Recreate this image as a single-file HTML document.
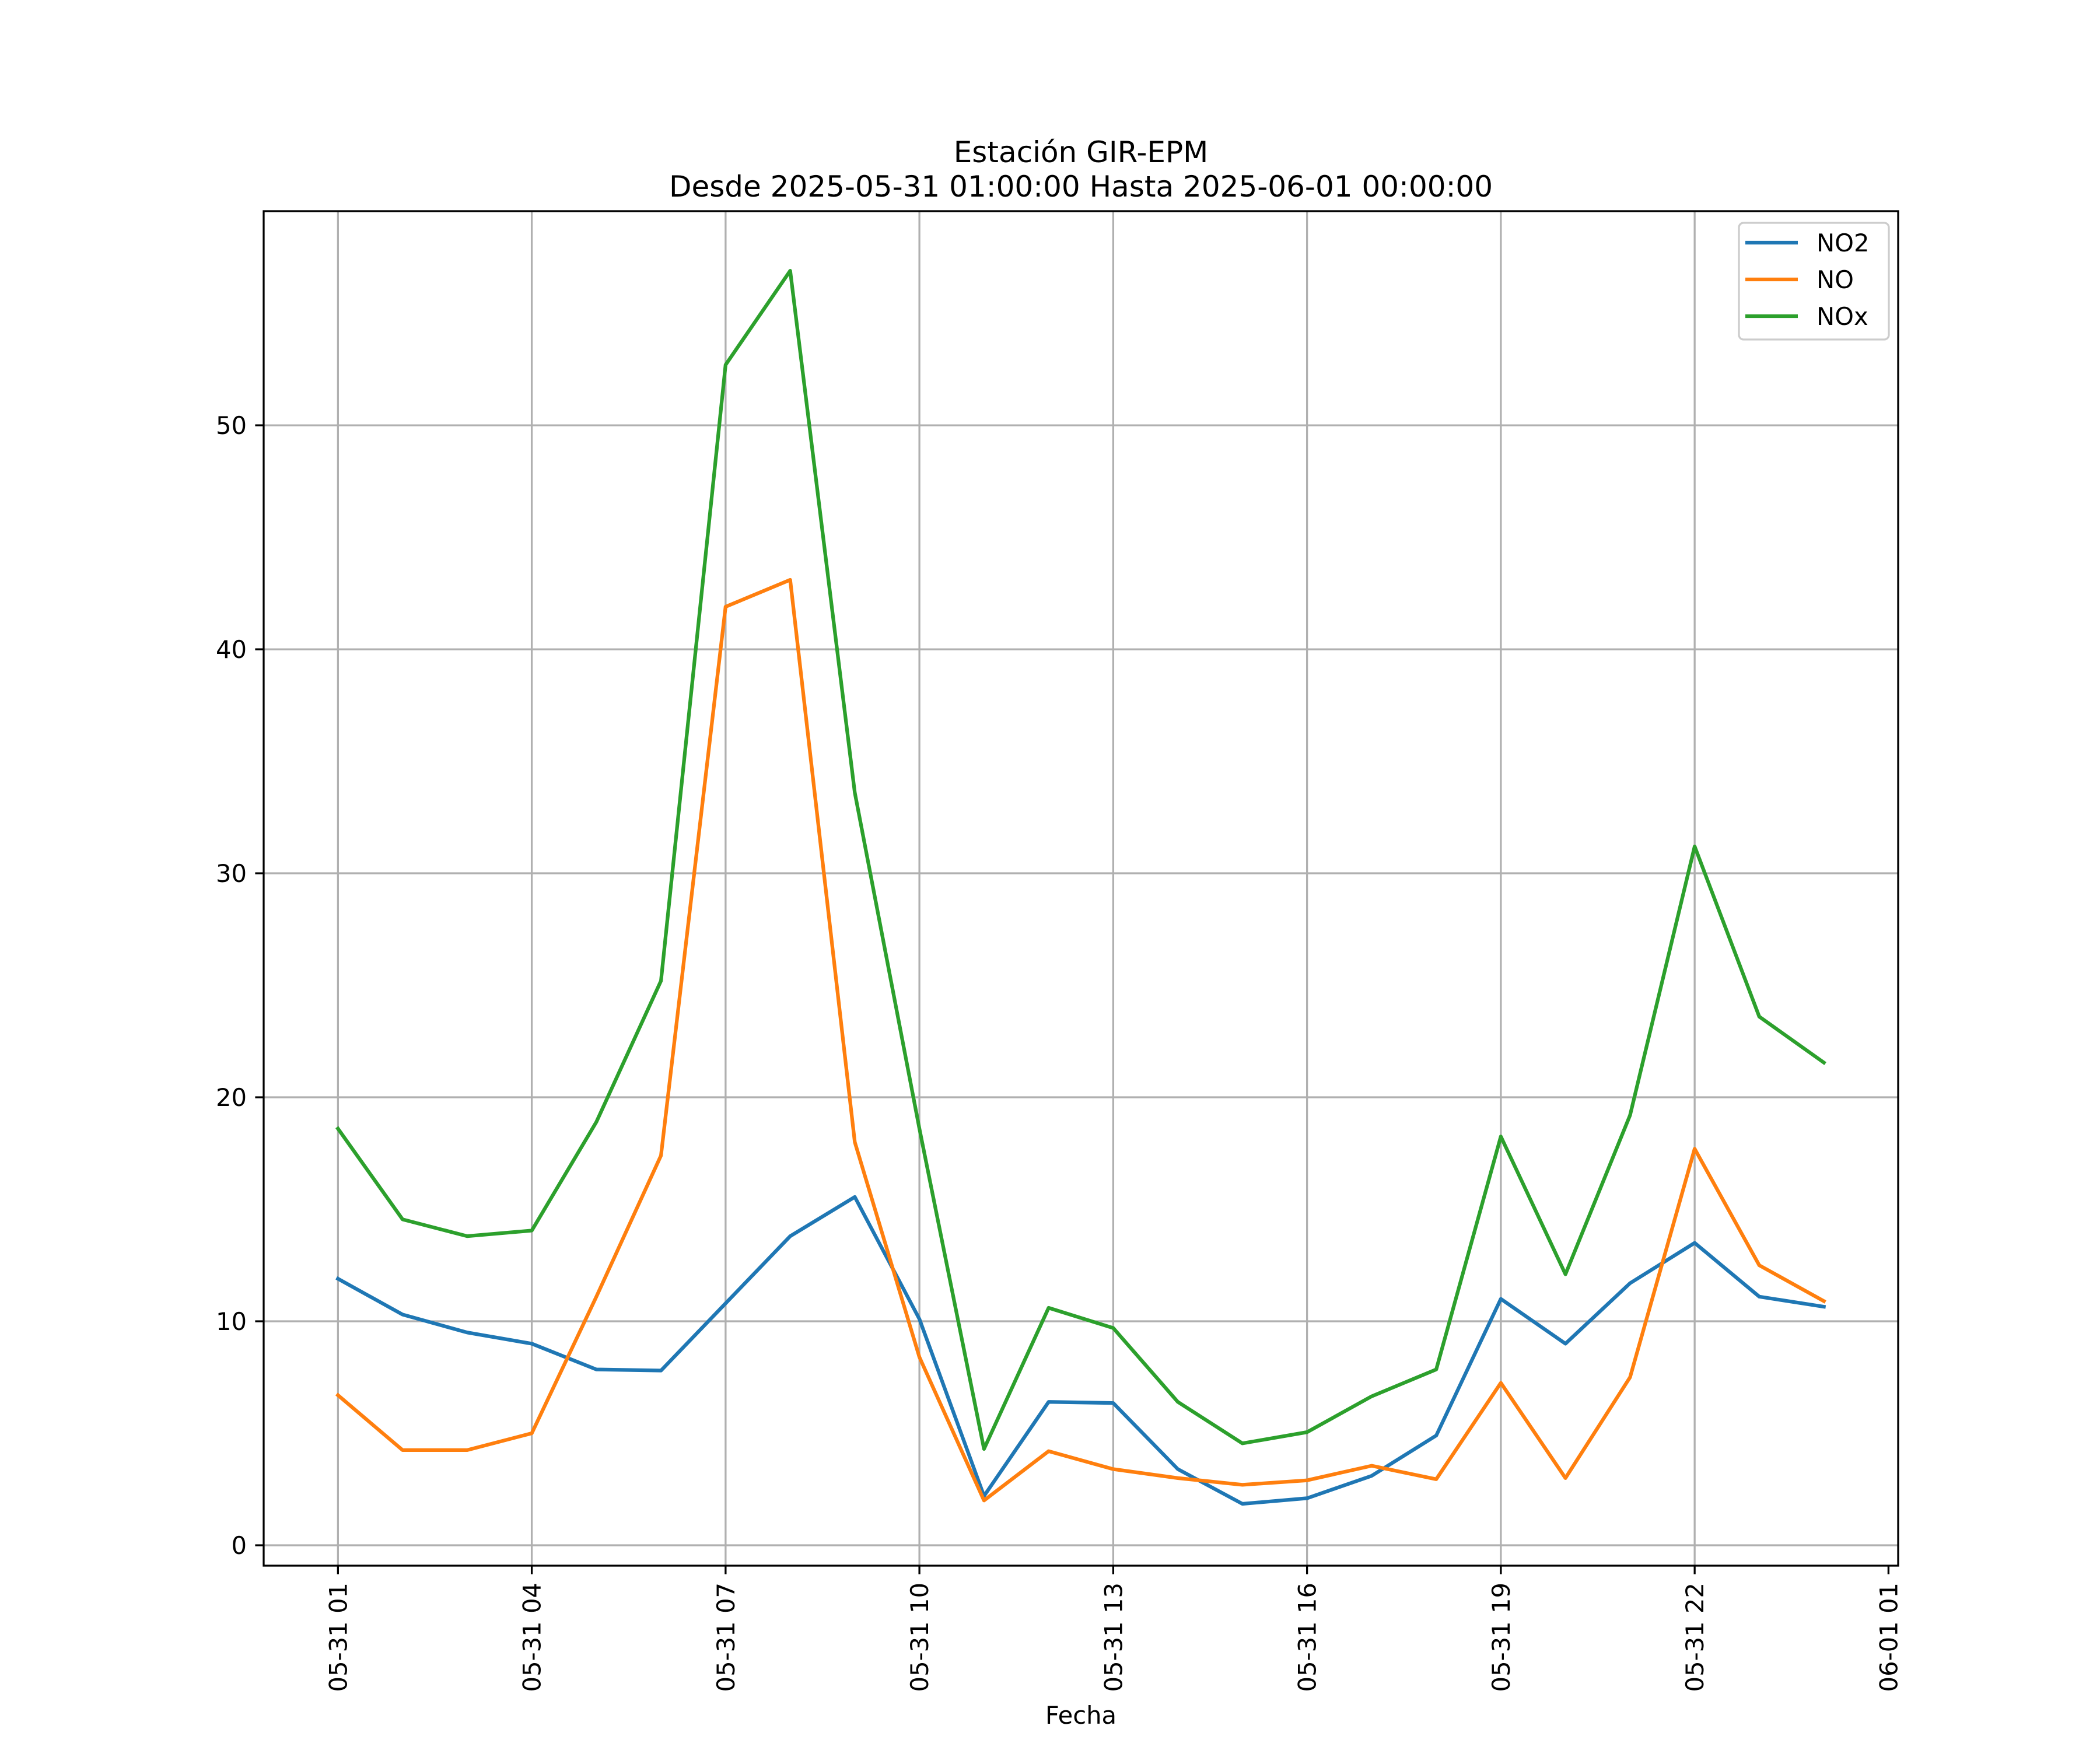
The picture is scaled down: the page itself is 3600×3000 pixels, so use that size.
<!DOCTYPE html>
<html><head><meta charset="utf-8"><style>
html,body{margin:0;padding:0;background:#fff;}
svg{display:block;font-family:"DejaVu Sans","Liberation Sans",sans-serif;}
</style></head><body>
<svg id="chart" width="3600" height="3000" viewBox="0 0 3600 3000" xmlns="http://www.w3.org/2000/svg">
<rect width="3600" height="3000" fill="#fff"/>
<text x="1853" y="278" font-size="50" text-anchor="middle">Estación GIR-EPM</text>
<text x="1853" y="337" font-size="50" text-anchor="middle">Desde 2025-05-31 01:00:00 Hasta 2025-06-01 00:00:00</text>
<g id="grid"></g>
<g id="series"></g>
<rect x="452" y="362" width="2802" height="2322" fill="none" stroke="#000" stroke-width="3.3"/>
<g id="ticks"></g>
<text x="1853" y="2955" font-size="41.7" text-anchor="middle">Fecha</text>
<g>
<rect x="2981" y="382" width="257" height="200" rx="8" fill="#fff" fill-opacity="0.8" stroke="#ccc" stroke-width="3.3"/>
<line x1="2992" y1="416" x2="3082" y2="416" stroke="#1f77b4" stroke-width="6.25"/>
<text x="3114" y="431" font-size="41.7">NO2</text>
<line x1="2992" y1="479" x2="3082" y2="479" stroke="#ff7f0e" stroke-width="6.25"/>
<text x="3114" y="494" font-size="41.7">NO</text>
<line x1="2992" y1="542" x2="3082" y2="542" stroke="#2ca02c" stroke-width="6.25"/>
<text x="3114" y="557" font-size="41.7">NOx</text>
</g>
</svg>
<script>
const hours = [0,1,2,3,4,5,6,7,8,9,10,11,12,13,14,15,16,17,18,19,20,21,22,23];
const no2 = [11.9,10.3,9.5,9.0,7.85,7.8,10.8,13.8,15.55,10.1,2.2,6.4,6.35,3.4,1.85,2.1,3.1,4.9,11.0,9.0,11.7,13.5,11.1,10.65];
const no = [6.7,4.25,4.25,5.0,11.1,17.4,41.9,43.1,18.0,8.4,2.0,4.2,3.4,3.0,2.7,2.9,3.55,2.95,7.25,3.0,7.5,17.7,12.5,10.9];
const nox = [18.6,14.55,13.8,14.05,18.9,25.2,52.7,56.9,33.6,18.6,4.3,10.6,9.7,6.4,4.55,5.05,6.65,7.85,18.25,12.1,19.2,31.2,23.6,21.55];
const xTickHours = [0,3,6,9,12,15,18,21,24];
const xTickLabels = ["05-31 01","05-31 04","05-31 07","05-31 10","05-31 13","05-31 16","05-31 19","05-31 22","06-01 01"];
const yTicks = [0,10,20,30,40,50];

const NS = "http://www.w3.org/2000/svg";
const L=452,R=3254,T=362,B=2684;
const X0=-1.15,X1=24.15,Y0=-0.91,Y1=59.56;
const xs = h => L + (h - X0) / (X1 - X0) * (R - L);
const ys = v => B - (v - Y0) / (Y1 - Y0) * (B - T);
function mk(tag, attrs, parent){const e=document.createElementNS(NS,tag);for(const k in attrs)e.setAttribute(k,attrs[k]);parent.appendChild(e);return e;}
const grid=document.getElementById('grid'), ticks=document.getElementById('ticks'), series=document.getElementById('series');

xTickHours.forEach((h,i)=>{
  const x=xs(h);
  if(h<=X1 && i<xTickHours.length-1){
    const g=mk('line',{x1:x,y1:T,x2:x,y2:B,stroke:'#b0b0b0','stroke-width':3.3},grid);
    
    
  }
  const t=mk('line',{x1:x,y1:B,x2:x,y2:B+14.6,stroke:'#000','stroke-width':3.3},ticks);
  
  
  const lb=mk('text',{x:0,y:0,'font-size':41.7,'text-anchor':'end',transform:`translate(${x+15},${B+29}) rotate(-90)`},ticks);
  lb.textContent=xTickLabels[i];
  
  
});
yTicks.forEach(v=>{
  const y=ys(v);
  const g=mk('line',{x1:L,y1:y,x2:R,y2:y,stroke:'#b0b0b0','stroke-width':3.3},grid);
  
  
  const t=mk('line',{x1:L-14.6,y1:y,x2:L,y2:y,stroke:'#000','stroke-width':3.3},ticks);
  
  
  const lb=mk('text',{x:L-29,y:y+15,'font-size':41.7,'text-anchor':'end'},ticks);
  lb.textContent=String(v);
  
  
});
[[no2,'#1f77b4','series-no2'],[no,'#ff7f0e','series-no'],[nox,'#2ca02c','series-nox']].forEach(([d,c,n])=>{
  const p=mk('polyline',{points:d.map((v,i)=>xs(hours[i])+','+ys(v)).join(' '),fill:'none',stroke:c,'stroke-width':6.25,'stroke-linejoin':'round','stroke-linecap':'square'},series);
  
  
});
</script>
</body></html>
